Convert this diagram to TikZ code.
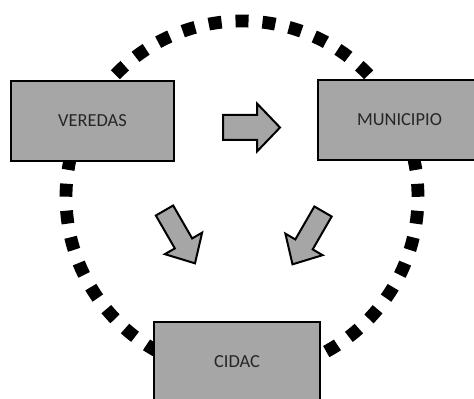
\documentclass[tikz,border=0pt]{standalone}
\usepackage{fontspec}
\setmainfont{Carlito}
\definecolor{boxgray}{HTML}{A6A6A6}
\definecolor{txtdark}{HTML}{262626}
\begin{document}
\begin{tikzpicture}[x=0.75pt,y=-0.75pt,
  boxnode/.style={draw=black,line width=1.6pt,fill=boxgray,minimum height=60pt,
    inner sep=0pt,font=\fontsize{13.8}{16}\selectfont,text=txtdark},
  ring/.style={line width=9.6pt,dash pattern=on 9.75pt off 10.48pt,dash phase=20.06pt},
  arrowstyle/.style={draw=black,line width=1.5pt,fill=boxgray,line join=miter},
  pics/blockarr/.style args={#1/#2/#3/#4}{code={
    \draw[arrowstyle] (0,-#3)--(#2,-#3)--(#2,-#4)--(#1,0)--(#2,#4)--(#2,#3)--(0,#3)--cycle;}}]
\useasboundingbox (0,0) rectangle (474,399);
\clip (0,0) rectangle (474,399);
\coordinate (c) at (242,197);
\draw[ring] (c) circle[radius=132pt];
\node[boxnode,minimum width=122.25pt] (veredas) at (92.5,121) {VEREDAS};
\node[boxnode,minimum width=122.25pt] (municipio) at (399.5,120) {MUNICIPIO};
\node[boxnode,minimum width=124.5pt] (cidac) at (237,362) {CIDAC};
\pic (a1) at (223,127.5) {blockarr={57/34/12.5/24}};
\pic[rotate=-60] (a2) at (164.5,210.5) {blockarr={61/38/10/21.5}};
\pic[rotate=-120] (a3) at (323,211.5) {blockarr={61/38/10/21.5}};
\end{tikzpicture}
\end{document}
